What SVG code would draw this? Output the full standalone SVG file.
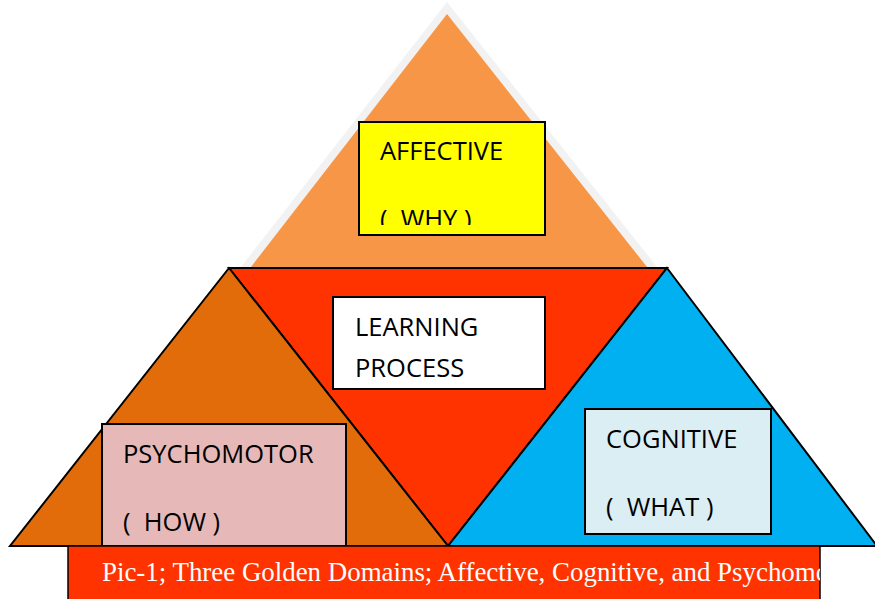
<svg xmlns="http://www.w3.org/2000/svg" width="875" height="599" viewBox="0 0 875 599">
<style>
.lbl{font-family:"Open Sans","Noto Sans",sans-serif;font-size:25.5px;fill:#000;white-space:pre}
.cap{font-family:"Liberation Serif","Times New Roman",serif;font-size:26.9px;fill:#fff;white-space:pre}
.tri{stroke:#000;stroke-width:2;stroke-linejoin:miter}
.box{stroke:#000;stroke-width:2}
</style>
<defs>
<clipPath id="clipWhy"><rect x="360" y="123" width="184" height="102"/></clipPath>
<clipPath id="clipCap"><rect x="68" y="546" width="752" height="53"/></clipPath>
</defs>
<rect width="875" height="599" fill="#fff"/>
<g id="top-triangle">
<polygon points="447,2 237,272 661,272" fill="#f2f2f2"/>
<polygon points="447,14 247,272 651,272" fill="#f79646"/>
</g>
<g id="learning-triangle">
<polygon class="tri" points="229,268 667,268 448,546" fill="#ff3300"/>
</g>
<g id="psychomotor-triangle">
<polygon class="tri" points="229,268 448,546 10,546" fill="#e36c0a"/>
</g>
<g id="cognitive-triangle">
<polygon class="tri" points="667,268 877,546 448,546" fill="#00b0f0"/>
</g>
<g id="affective">
<rect class="box" x="359" y="122" width="186" height="113" fill="#ffff00"/>
<g clip-path="url(#clipWhy)">
<text class="lbl" x="380" y="160">AFFECTIVE</text>
<text class="lbl" x="380" y="228">(  WHY )</text>
</g>
</g>
<g id="learning-process">
<rect class="box" x="333" y="297" width="212" height="92" fill="#fff"/>
<text class="lbl" x="355" y="336">LEARNING</text>
<text class="lbl" x="355" y="377">PROCESS</text>
</g>
<g id="psychomotor">
<rect class="box" x="102" y="424" width="244" height="122" fill="#e6b9b8"/>
<text class="lbl" x="123" y="463">PSYCHOMOTOR</text>
<text class="lbl" x="123" y="531">(  HOW )</text>
</g>
<g id="cognitive">
<rect class="box" x="585" y="409" width="186" height="125" fill="#dbeef4"/>
<text class="lbl" x="606" y="448">COGNITIVE</text>
<text class="lbl" x="606" y="516">(  WHAT )</text>
</g>
<g id="caption">
<rect x="68" y="546" width="752" height="56" fill="#ff3300" stroke="#000" stroke-width="1.5"/>
<g clip-path="url(#clipCap)">
<text class="cap" x="102" y="581">Pic-1; Three Golden Domains; Affective, Cognitive, and Psychomotor</text>
</g>
</g>
<g id="connectors"/>
</svg>
